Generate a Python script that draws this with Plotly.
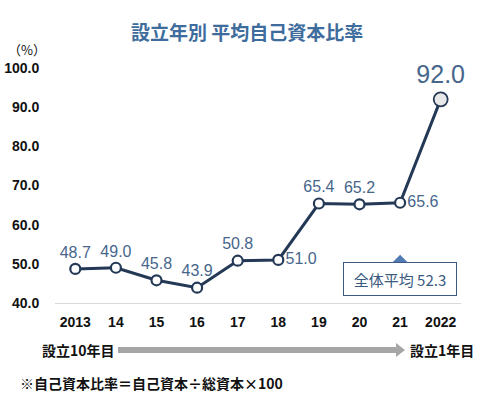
import plotly.graph_objects as go

years = ["2013", "14", "15", "16", "17", "18", "19", "20", "21", "2022"]
ratios = [48.7, 49.0, 45.8, 43.9, 50.8, 51.0, 65.4, 65.2, 65.6, 92.0]
label_pos = ["top center", "top center", "top center", "top center", "top center",
             "middle right", "top center", "top center", "middle right", "top center"]
overall_avg = 52.3
y_ticks = [40, 50, 60, 70, 80, 90, 100]

W, H = 485, 397
L, R, T, B = 55, 24, 68, 94
FONT = "Noto Sans CJK JP, Noto Sans, sans-serif"
NUMFONT = "Liberation Sans, Arial, sans-serif"
LINE = "#233956"
LABEL = "#46668c"

def px(x):
    return (x - L) / (W - L - R)

def py(y):
    return (H - B - y) / (H - T - B)

xs = list(range(len(years)))
sizes = [10] * (len(years) - 1) + [14]
fills = ["#ffffff"] * (len(years) - 1) + ["#e8e8e8"]
lw = [2.2] * (len(years) - 1) + [1.8]
tsizes = [16] * (len(years) - 1) + [25]

fig = go.Figure()
fig.add_trace(go.Scatter(
    x=xs, y=ratios, mode="lines+markers+text",
    line=dict(color=LINE, width=3),
    marker=dict(size=sizes, color=fills, opacity=1, line=dict(color=LINE, width=lw)),
    text=[f"{v:.1f}" for v in ratios],
    textposition=label_pos,
    textfont=dict(size=tsizes, color=LABEL, family=NUMFONT),
    cliponaxis=False, hoverinfo="skip",
))

# average marker triangle + box
i21 = years.index("21")
fig.add_shape(type="path", xref="x", yref="y",
              path=f"M {i21-0.22},{overall_avg-2.3} L {i21},{overall_avg} L {i21+0.22},{overall_avg-2.3} Z",
              fillcolor="#4f7ab3", line=dict(width=0))
fig.add_annotation(x=i21, y=overall_avg - 6.2, xref="x", yref="y",
                   xanchor="center", yanchor="middle",
                   text=f"全体平均 {overall_avg}", showarrow=False,
                   font=dict(size=15, color="#3a5a80", family=FONT),
                   bordercolor="#3d5a80", borderwidth=1, bgcolor="white",
                   width=108, height=28, borderpad=2)

# arrow
fig.add_shape(type="rect", xref="paper", yref="paper",
              x0=px(118), x1=px(396), y0=py(353), y1=py(347),
              fillcolor="#a6a6a6", line=dict(width=0))
fig.add_shape(type="path", xref="paper", yref="paper",
              path=f"M {px(396)},{py(343)} L {px(405)},{py(350)} L {px(396)},{py(357)} Z",
              fillcolor="#a6a6a6", line=dict(width=0))

def note(x, y, text, size, color="#111111", anchor="left"):
    fig.add_annotation(x=px(x), y=py(y), xref="paper", yref="paper",
                       xanchor=anchor, yanchor="middle", text=text, showarrow=False,
                       font=dict(size=size, color=color, family=FONT))

note(40, 350, "<b>設立10年目</b>", 14)
note(408, 350, "<b>設立1年目</b>", 14)
note(18, 383, "<b>※自己資本比率＝自己資本÷総資本×100</b>", 14)
note(6, 49, "（%）", 13)
note(247, 31, "<b>設立年別 平均自己資本比率</b>", 19, "#3e6c9c", "center")

fig.update_layout(
    width=W, height=H, margin=dict(l=L, r=R, t=T, b=B),
    paper_bgcolor="white", plot_bgcolor="white", showlegend=False,
    font=dict(family=FONT),
    xaxis=dict(range=[-0.5, len(years) - 0.5], tickvals=xs, automargin=False,
               ticktext=[f"<b>{y}</b>" for y in years],
               showgrid=False, zeroline=False, showline=True, linecolor="#d9d9d9", linewidth=1,
               tickfont=dict(size=14, color="#111111", family=NUMFONT),
               ticks="outside", ticklen=6, tickcolor="rgba(0,0,0,0)"),
    yaxis=dict(range=[40, 100], tickvals=y_ticks, automargin=False,
               ticktext=[f"<b>{v:.1f}</b>" for v in y_ticks],
               showgrid=False, zeroline=False, showline=False,
               tickfont=dict(size=14, color="#111111", family=NUMFONT),
               ticks="outside", ticklen=12, tickcolor="rgba(0,0,0,0)"),
)

fig.write_html("out.html", config={"displayModeBar": False},
               post_script="document.body.style.margin='0';")
